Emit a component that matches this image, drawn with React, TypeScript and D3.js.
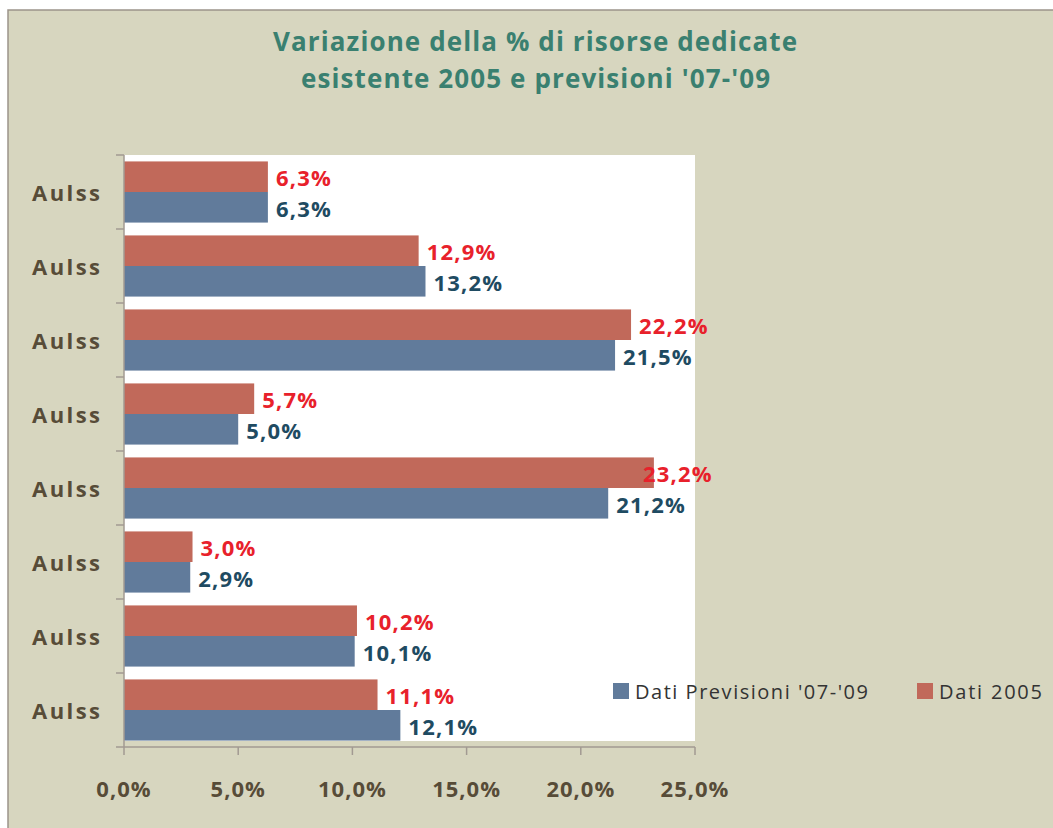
import React from "react";
import * as d3 from "d3";

const categories = ["Aulss", "Aulss", "Aulss", "Aulss", "Aulss", "Aulss", "Aulss", "Aulss"];
const dati2005 = [6.3, 12.9, 22.2, 5.7, 23.2, 3.0, 10.2, 11.1];
const previsioni = [6.3, 13.2, 21.5, 5.0, 21.2, 2.9, 10.1, 12.1];
const xTicks = [0, 5, 10, 15, 20, 25];
const titleLines = ["Variazione della % di risorse dedicate", "esistente 2005 e previsioni '07-'09"];
const seriesNames = ["Dati Previsioni '07-'09", "Dati 2005"];

const W = 1053;
const H = 828;
const plot = { left: 124, right: 695, top: 155, bottom: 747 };
const FONT = "'Open Sans', 'Noto Sans', sans-serif";

const RED = "#c1695a";
const BLUE = "#617b9b";
const RED_LABEL = "#e8212b";
const BLUE_LABEL = "#1f4b62";
const AXIS_TEXT = "#574c38";

const pct = (v: number) => d3.format(".1f")(v).replace(".", ",") + "%";

export default function App() {
  const x = d3.scaleLinear().domain([0, 25]).range([plot.left, plot.right]);
  const y = d3
    .scaleBand<number>()
    .domain(categories.map((_, i) => i))
    .range([plot.top, plot.bottom])
    .padding(0);
  // red (2005) on top, blue (previsioni) below inside each category
  const inner = d3
    .scaleBand<string>()
    .domain(["2005", "prev"])
    .range([0, y.bandwidth()])
    .paddingInner(0)
    .paddingOuter(0.21);

  const labelX = (v: number) => Math.min(x(v) + 8, 643);

  return (
    <svg
      width={W}
      height={H}
      style={{ position: "absolute", left: 0, top: 0 }}
      fontFamily={FONT}
    >
      <rect x={0} y={0} width={W} height={H} fill="#ffffff" />
      <rect x={8} y={10} width={W} height={H} fill="#d7d6bf" stroke="#9c948a" strokeWidth={1.5} />

      {/* title */}
      <text x={273} y={51} fontSize={26} fontWeight="bold" fill="#3a8070" textLength={524} lengthAdjust="spacing">
        {titleLines[0]}
      </text>
      <text x={301} y={88} fontSize={26} fontWeight="bold" fill="#3a8070" textLength={469} lengthAdjust="spacing">
        {titleLines[1]}
      </text>

      {/* plot area */}
      <rect x={plot.left} y={plot.top} width={plot.right - plot.left} height={plot.bottom - plot.top - 6} fill="#ffffff" />

      {/* bars */}
      {categories.map((_, i) => {
        const by = y(i) as number;
        return (
          <g key={i}>
            <rect
              x={x(0)}
              y={by + (inner("2005") as number)}
              width={x(dati2005[i]) - x(0)}
              height={inner.bandwidth()}
              fill={RED}
            />
            <rect
              x={x(0)}
              y={by + (inner("prev") as number)}
              width={x(previsioni[i]) - x(0)}
              height={inner.bandwidth()}
              fill={BLUE}
            />
          </g>
        );
      })}

      {/* value labels */}
      {categories.map((_, i) => {
        const by = y(i) as number;
        const bw = inner.bandwidth();
        return (
          <g key={"l" + i} fontSize={22} fontWeight="bold" letterSpacing={1.2}>
            <text
              x={labelX(dati2005[i])}
              y={by + (inner("2005") as number) + bw / 2}
              dominantBaseline="central"
              fill={RED_LABEL}
            >
              {pct(dati2005[i])}
            </text>
            <text
              x={labelX(previsioni[i])}
              y={by + (inner("prev") as number) + bw / 2 + 1}
              dominantBaseline="central"
              fill={BLUE_LABEL}
            >
              {pct(previsioni[i])}
            </text>
          </g>
        );
      })}

      {/* axes */}
      <g stroke="#a29a92" strokeWidth={1.5}>
        <line x1={plot.left} x2={plot.left} y1={plot.top} y2={plot.bottom} />
        <line x1={plot.left} x2={plot.right} y1={plot.bottom} y2={plot.bottom} />
        {categories.map((_, i) => (
          <line key={"t" + i} x1={plot.left - 8} x2={plot.left} y1={y(i) as number} y2={y(i) as number} />
        ))}
        <line x1={plot.left - 8} x2={plot.left} y1={plot.bottom} y2={plot.bottom} />
        {xTicks.map((t) => (
          <line key={"xt" + t} x1={x(t)} x2={x(t)} y1={plot.bottom} y2={plot.bottom + 8} />
        ))}
      </g>

      {/* category labels */}
      {categories.map((c, i) => (
        <text
          key={"c" + i}
          x={32}
          y={(y(i) as number) + y.bandwidth() / 2}
          dominantBaseline="central"
          fontSize={22}
          fontWeight="bold"
          fill={AXIS_TEXT}
          textLength={68}
          lengthAdjust="spacing"
        >
          {c}
        </text>
      ))}

      {/* x tick labels */}
      {xTicks.map((t) => (
        <text
          key={"xl" + t}
          x={x(t)}
          y={788}
          textAnchor="middle"
          dominantBaseline="central"
          fontSize={22}
          fontWeight="bold"
          letterSpacing={1}
          fill={AXIS_TEXT}
        >
          {pct(t)}
        </text>
      ))}

      {/* legend */}
      <rect x={613} y={683} width={16} height={16} fill={BLUE} />
      <text x={635} y={699} fontSize={20} fill="#333333" textLength={233} lengthAdjust="spacing">
        {seriesNames[0]}
      </text>
      <rect x={917} y={683} width={16} height={16} fill={RED} />
      <text x={939} y={699} fontSize={20} fill="#333333" textLength={103} lengthAdjust="spacing">
        {seriesNames[1]}
      </text>
    </svg>
  );
}
